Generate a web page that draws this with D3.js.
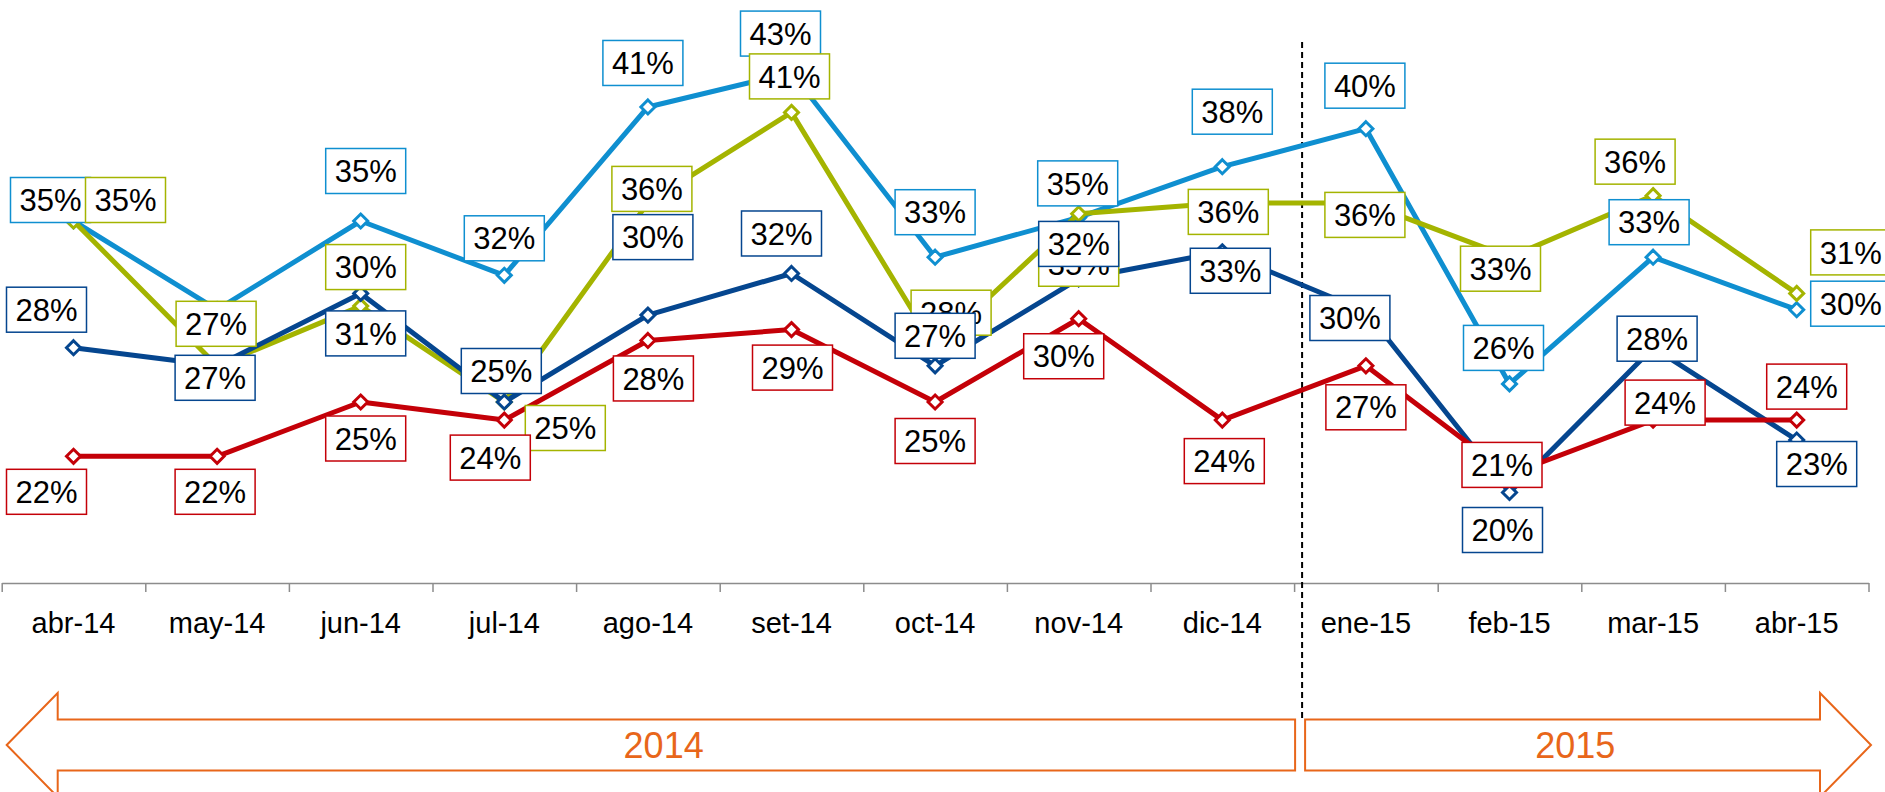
<!DOCTYPE html>
<html>
<head>
<meta charset="utf-8">
<script src="https://d3js.org/d3.v7.min.js"></script>
<style>
  html, body { margin: 0; padding: 0; background: #fff; }
  svg text { font-family: "Liberation Sans", Arial, sans-serif; }
</style>
</head>
<body>
<div id="chart"></div>
<script>
// categories
const months = ["abr-14", "may-14", "jun-14", "jul-14", "ago-14", "set-14", "oct-14",
                "nov-14", "dic-14", "ene-15", "feb-15", "mar-15", "abr-15"];

// series values (share)
const lightBlue = [0.350, 0.301, 0.350, 0.320, 0.413, 0.432, 0.330, 0.352, 0.380, 0.401, 0.260, 0.330, 0.301];
const olive     = [0.350, 0.270, 0.303, 0.250, 0.360, 0.410, 0.280, 0.354, 0.360, 0.360, 0.330, 0.364, 0.310];
const darkBlue  = [0.280, 0.270, 0.310, 0.250, 0.298, 0.321, 0.270, 0.318, 0.333, 0.300, 0.200, 0.280, 0.229];
const red       = [0.220, 0.220, 0.250, 0.240, 0.284, 0.290, 0.250, 0.296, 0.240, 0.270, 0.210, 0.240, 0.240];

// year bands under the axis
const years = ["2014", "2015"];
const yearMonths = [9, 4];

// where each data label box sits, relative to its point (null = no label)
const lightBlueLabels = [[-23,-21], null, [5,-50], [0,-37], [-5,-44], [-11,-39], [0,-45], [-1,-34], [10,-55], [-1,-43], [-6,-36], [-4,-35], [54,-6]];
const oliveLabels     = [[52,-21], [-1,-42], [5,-39], [61,26], [4,-14], [-2,-36], [16,-35], [0,50], [6,9], [-1,12], [-9,11.5], [-18,-34], [54,-41]];
const darkBlueLabels  = [[-27,-38], [-2,12], [5,40], [-3,-31], [5,-78], [-10,-40], [0,-30], [0,-35], [8,19], [-16,6.5], [-7,37.5], [4,-9], [20,24]];
const redLabels       = [[-27,35.5], [-2,35.5], [5,36.5], [-14,37.5], [5.5,38], [1,38], [0,39], [-15,37.5], [2,41], [0,41.5], [-7.5,-9.5], [12,-17.5], [10,-33.5]];

const series = [
    {values: lightBlue, color: "#0f8fd0", labels: lightBlueLabels},
    {values: olive,     color: "#a4b400", labels: oliveLabels},
    {values: darkBlue,  color: "#05468f", labels: darkBlueLabels},
    {values: red,       color: "#c40008", labels: redLabels}
];

let width = 1885;
let height = 792;
let orange = "#e8661a";

let svg = d3.select("#chart")
    .append("svg")
        .attr("width", width)
        .attr("height", height);

let x = d3.scaleBand()
    .domain(months)
    .range([1.7, 1868.5]);

let y = d3.scaleLinear()
    .domain([0.15, 0.45])
    .range([583, 40]);

let px = (i) => x(months[i]) + x.bandwidth() / 2;

// category axis: ticks between categories
let tickScale = d3.scaleLinear()
    .domain([0, months.length])
    .range(x.range());

svg.append("g")
    .attr("transform", "translate(0,583)")
    .call(d3.axisBottom(tickScale)
        .tickValues(d3.range(months.length + 1))
        .tickFormat("")
        .tickSize(9)
        .tickSizeOuter(0))
    .call(g => g.selectAll("line, path")
        .attr("stroke", "#8c8c8c")
        .attr("stroke-width", 1.5));

svg.append("g")
    .attr("transform", "translate(0,583)")
    .call(d3.axisBottom(x).tickSize(0).tickPadding(29))
    .call(g => g.select(".domain").remove())
    .attr("font-family", "'Liberation Sans', Arial, sans-serif")
    .attr("font-size", 29)
    .selectAll("text")
        .attr("fill", "#000");

// dashed separator between the two years
let sepX = tickScale(yearMonths[0]) + 8;
svg.append("line")
    .attr("x1", sepX).attr("x2", sepX)
    .attr("y1", 42).attr("y2", 720)
    .attr("stroke", "#000")
    .attr("stroke-width", 2)
    .attr("stroke-dasharray", "6,4");

// lines + diamond markers
let line = d3.line()
    .x((d, i) => px(i))
    .y(d => y(d));

series.forEach((s) => {
    svg.append("path")
        .datum(s.values)
        .attr("d", line)
        .attr("fill", "none")
        .attr("stroke", s.color)
        .attr("stroke-width", 5)
        .attr("stroke-linejoin", "round");

    svg.append("g").selectAll("path")
        .data(s.values)
        .enter()
        .append("path")
            .attr("d", "M0,-7L7,0L0,7L-7,0Z")
            .attr("transform", (d, i) => "translate(" + px(i) + "," + y(d) + ")")
            .attr("fill", "#fff")
            .attr("stroke", s.color)
            .attr("stroke-width", 3);
});

// boxed data labels
let fmt = d3.format(".0%");
series.forEach((s) => {
    let g = svg.append("g");
    s.values.forEach((v, i) => {
        let off = s.labels[i];
        if (!off) return;
        let cx = px(i) + off[0];
        let cy = y(v) + off[1];
        g.append("rect")
            .attr("x", cx - 40)
            .attr("y", cy - 22.5)
            .attr("width", 80)
            .attr("height", 45)
            .attr("fill", "#fff")
            .attr("stroke", s.color)
            .attr("stroke-width", 1.5);
        g.append("text")
            .attr("x", cx)
            .attr("y", cy)
            .attr("dy", "0.36em")
            .attr("text-anchor", "middle")
            .attr("font-size", 31)
            .attr("fill", "#000")
            .text(fmt(v));
    });
});

// year arrows
let arrowY = 745, headLen = 51, headHalf = 52, shaftHalf = 25.5;
let start = 0;
years.forEach((yr, k) => {
    let x0 = tickScale(start);
    let x1 = tickScale(start + yearMonths[k]);
    start += yearMonths[k];
    let pts, shaft0, shaft1;
    if (k == 0) {
        x0 += 5; x1 += 1;
        shaft0 = x0 + headLen; shaft1 = x1;
        pts = [[x0, arrowY], [shaft0, arrowY - headHalf], [shaft0, arrowY - shaftHalf], [x1, arrowY - shaftHalf],
               [x1, arrowY + shaftHalf], [shaft0, arrowY + shaftHalf], [shaft0, arrowY + headHalf]];
    } else {
        x0 += 11; x1 += 2.5;
        shaft0 = x0; shaft1 = x1 - headLen;
        pts = [[x0, arrowY - shaftHalf], [shaft1, arrowY - shaftHalf], [shaft1, arrowY - headHalf], [x1, arrowY],
               [shaft1, arrowY + headHalf], [shaft1, arrowY + shaftHalf], [x0, arrowY + shaftHalf]];
    }
    svg.append("polygon")
        .attr("points", pts.map(p => p.join(",")).join(" "))
        .attr("fill", "#fff")
        .attr("stroke", orange)
        .attr("stroke-width", 2);
    svg.append("text")
        .attr("x", ((x0 + x1) / 2 + (shaft0 + shaft1) / 2) / 2)
        .attr("y", arrowY)
        .attr("dy", "0.36em")
        .attr("text-anchor", "middle")
        .attr("font-size", 36)
        .attr("fill", orange)
        .text(yr);
});
</script>
</body>
</html>
